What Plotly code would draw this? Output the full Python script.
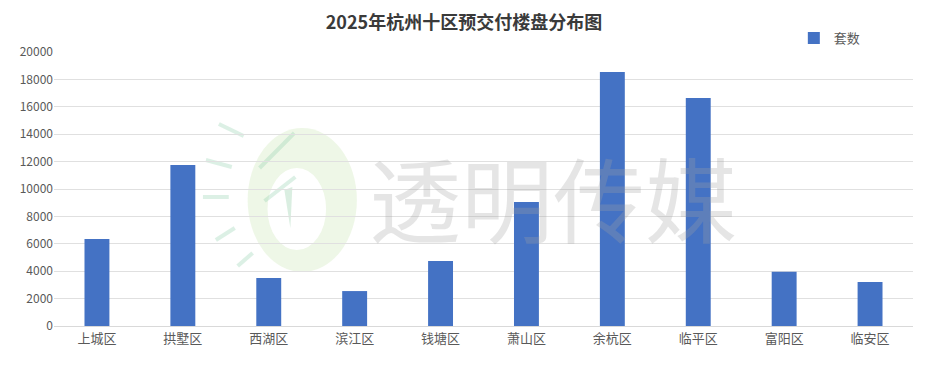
import plotly.graph_objects as go

districts = ["上城区", "拱墅区", "西湖区", "滨江区", "钱塘区", "萧山区", "余杭区", "临平区", "富阳区", "临安区"]
units = [6350, 11750, 3500, 2550, 4750, 9050, 18540, 16640, 3960, 3210]
y_ticks = [0, 2000, 4000, 6000, 8000, 10000, 12000, 14000, 16000, 18000, 20000]

# page has an 8px body margin; figure is sized/margined to compensate
OFF = 8
W, H = 929 - OFF, 389 - OFF
L, R, T, B = 48 - OFF, 16, 52 - OFF, 63

fig = go.Figure()
fig.add_trace(go.Bar(
    x=districts, y=units, name="套数",
    marker=dict(color="#4472C4", line=dict(width=0)),
    showlegend=True,
))

# helpers converting page pixel coords to paper coords
def px(x):
    return (x - 48) / (913 - 48)

def py(y):
    return (326 - y) / (326 - 52)

shapes = []
# watermark logo (approximation)
shapes.append(dict(type="circle", xref="paper", yref="paper",
                   x0=px(243), x1=px(353), y0=py(272), y1=py(128),
                   line=dict(width=0),
                   fillcolor="rgba(205,232,185,0.35)", layer="below"))
shapes.append(dict(type="circle", xref="paper", yref="paper",
                   x0=px(263), x1=px(322), y0=py(250), y1=py(168),
                   line=dict(width=0),
                   fillcolor="white", layer="below"))
shapes.append(dict(type="path", xref="paper", yref="paper",
                   path="M {} {} L {} {} L {} {} Z".format(px(280), py(190), px(288), py(187), px(286), py(228)),
                   line=dict(width=0), fillcolor="rgba(150,205,170,0.35)", layer="below"))
dashes = [((214, 124), (239, 136)), ((201, 160), (227, 167)), ((198, 197), (224, 197)),
          ((211, 240), (230, 228)), ((233, 266), (248, 253)), ((260, 201), (291, 177)),
          ((255, 168), (290, 133))]
for (x0, y0), (x1, y1) in dashes:
    shapes.append(dict(type="line", xref="paper", yref="paper",
                       x0=px(x0), y0=py(y0), x1=px(x1), y1=py(y1),
                       line=dict(color="rgba(140,205,170,0.3)", width=4), layer="below"))

fig.update_layout(
    width=W, height=H,
    margin=dict(l=L, r=R, t=T, b=B),
    paper_bgcolor="white", plot_bgcolor="white",
    title=dict(text="<b>2025年杭州十区预交付楼盘分布图</b>", x=(464 - OFF) / W, xanchor="center",
               y=1 - (23 - OFF) / H, yanchor="middle",
               font=dict(family="Noto Sans CJK SC", size=18, color="#3a3a3a")),
    font=dict(family="Noto Sans CJK SC", size=12, color="#595959"),
    bargap=0.71,
    legend=dict(orientation="h", x=px(793), y=py(38), xanchor="left", yanchor="middle",
                font=dict(size=13, color="#595959"), bgcolor="rgba(0,0,0,0)",
                itemwidth=30),
    xaxis=dict(showgrid=False, showline=True, linecolor="#d9d9d9", linewidth=1,
               ticks="", tickfont=dict(size=13, color="#595959")),
    yaxis=dict(range=[0, 20000], tickvals=y_ticks, ticktext=[str(v) for v in y_ticks],
               showgrid=True, gridcolor="#e0e0e0", gridwidth=1, zeroline=False,
               showline=False, ticks="", tickfont=dict(size=12, color="#595959")),
    shapes=shapes,
    annotations=[dict(text="透明传媒", xref="paper", yref="paper",
                      x=px(550), y=py(195), xanchor="center", yanchor="middle",
                      showarrow=False,
                      font=dict(family="Noto Sans CJK SC", size=92, color="rgba(160,160,160,0.28)"))],
)

fig.write_html("out.html")
